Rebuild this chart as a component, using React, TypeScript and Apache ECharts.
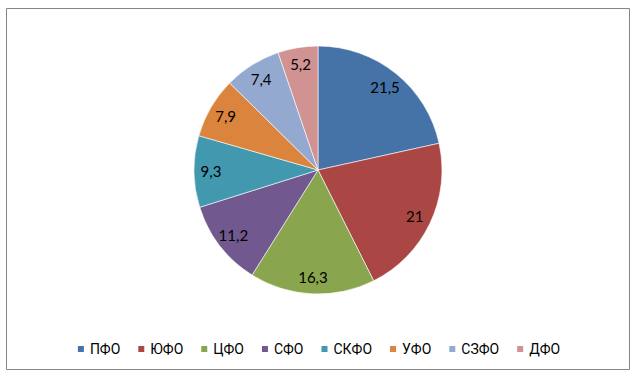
import React, { useEffect, useRef } from "react";
import * as echarts from "echarts";

const categories = ["ПФО", "ЮФО", "ЦФО", "СФО", "СКФО", "УФО", "СЗФО", "ДФО"];
const values = [21.5, 21, 16.3, 11.2, 9.3, 7.9, 7.4, 5.2];
const colors = ["#4572A7", "#AA4643", "#89A54E", "#71588F", "#4198AF", "#DB843D", "#93A9CF", "#D19392"];

export default function App() {
  const ref = useRef<HTMLDivElement>(null);
  useEffect(() => {
    if (!ref.current) return;
    const chart = echarts.init(ref.current, undefined, { renderer: "svg" });
    const data = categories.map((name, i) => ({
      name,
      value: values[i],
      itemStyle: { color: colors[i] },
    }));
    chart.setOption({
      animation: false,
      backgroundColor: "#ffffff",
      textStyle: { fontFamily: "Roboto" },
      graphic: [
        {
          type: "rect",
          shape: { x: 6.5, y: 8.5, width: 623, height: 361 },
          style: { fill: "none", stroke: "#868686", lineWidth: 1 },
          silent: true,
        },
      ],
      legend: {
        data: categories,
        left: "center",
        top: 337,
        itemWidth: 8,
        itemHeight: 8,
        itemGap: 16,
        icon: "rect",
        textStyle: {
          fontFamily: "Roboto",
          fontSize: 14,
          color: "#000",
        },
      },
      series: [
        {
          type: "pie",
          center: [318, 170],
          radius: [0, 124],
          startAngle: 90,
          clockwise: true,
          label: { show: false },
          labelLine: { show: false },
          itemStyle: { borderColor: "#ffffff", borderWidth: 0.6 },
          emphasis: { disabled: true },
          data,
        },
        {
          type: "pie",
          center: [318, 170],
          radius: [84, 124],
          startAngle: 90,
          clockwise: true,
          silent: true,
          legendHoverLink: false,
          itemStyle: { color: "rgba(0,0,0,0)" },
          label: {
            show: true,
            position: "inside",
            formatter: (p: any) => String(p.value).replace(".", ","),
            fontFamily: "Lato",
            fontSize: 15,
            color: "#000",
          },
          labelLine: { show: false },
          emphasis: { disabled: true },
          data: categories.map((name, i) => ({ name, value: values[i] })),
        },
      ],
    });
    return () => chart.dispose();
  }, []);
  return (
    <div
      ref={ref}
      style={{ position: "absolute", left: 0, top: 0, width: 636, height: 376 }}
    />
  );
}
